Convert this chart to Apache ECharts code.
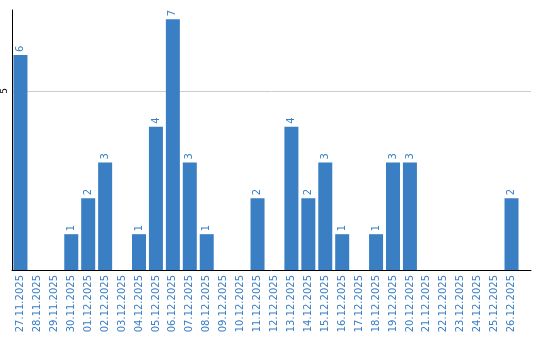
<!DOCTYPE html>
<html><head><meta charset="utf-8">
<script src="https://cdn.jsdelivr.net/npm/echarts@6/dist/echarts.min.js"></script>
<style>html,body{margin:0;padding:0;background:#fff}#c{width:540px;height:340px}</style>
</head><body><div id="c"></div>
<script>
const categories = ["27.11.2025","28.11.2025","29.11.2025","30.11.2025","01.12.2025","02.12.2025","03.12.2025","04.12.2025","05.12.2025","06.12.2025","07.12.2025","08.12.2025","09.12.2025","10.12.2025","11.12.2025","12.12.2025","13.12.2025","14.12.2025","15.12.2025","16.12.2025","17.12.2025","18.12.2025","19.12.2025","20.12.2025","21.12.2025","22.12.2025","23.12.2025","24.12.2025","25.12.2025","26.12.2025"];
const values = [6,0,0,1,2,3,0,1,4,7,3,1,0,0,2,0,4,2,3,1,0,1,3,3,0,0,0,0,0,2];
const yTicks = [0,5];

const blue = '#3a7ec4';
const chart = echarts.init(document.getElementById('c'), null, {renderer:'canvas'});
chart.setOption({
  animation:false,
  grid:{left:10, right:9, top:10, bottom:70, containLabel:false},
  xAxis:{
    type:'value', min:0, max:30.65,
    axisLine:{show:true, onZero:false, lineStyle:{color:'#000', width:1}},
    axisTick:{show:false},
    splitLine:{show:false},
    axisLabel:{
      customValues: categories.map((c,i)=>i+0.5),
      rotate:90, color:blue, fontFamily:'DejaVu Sans', fontSize:10, margin:5,
      formatter:(v)=>categories[Math.round(v-0.5)] || ''
    }
  },
  yAxis:{
    type:'value', min:0, max:7.26, interval:5,
    axisLine:{show:true, lineStyle:{color:'#000', width:1}},
    axisTick:{show:false},
    splitLine:{show:true, showMaxLine:false, showMinLine:false, lineStyle:{color:'#cccccc', width:1}},
    axisLabel:{
      customValues: yTicks,
      rotate:90, color:'#000', fontFamily:'DejaVu Sans', fontSize:9, margin:3,
      formatter:(v)=> v===0 ? '' : String(v)
    }
  },
  series:[{
    type:'bar',
    barWidth:14,
    data: values.map((v,i)=>[i+0.5, v]),
    itemStyle:{color:blue},
    label:{
      show:true, position:'top', rotate:90, align:'left', verticalAlign:'middle',
      distance:3, color:blue, fontFamily:'DejaVu Sans', fontSize:10,
      formatter:(p)=> p.value[1] ? String(p.value[1]) : ''
    }
  }]
});
</script></body></html>
